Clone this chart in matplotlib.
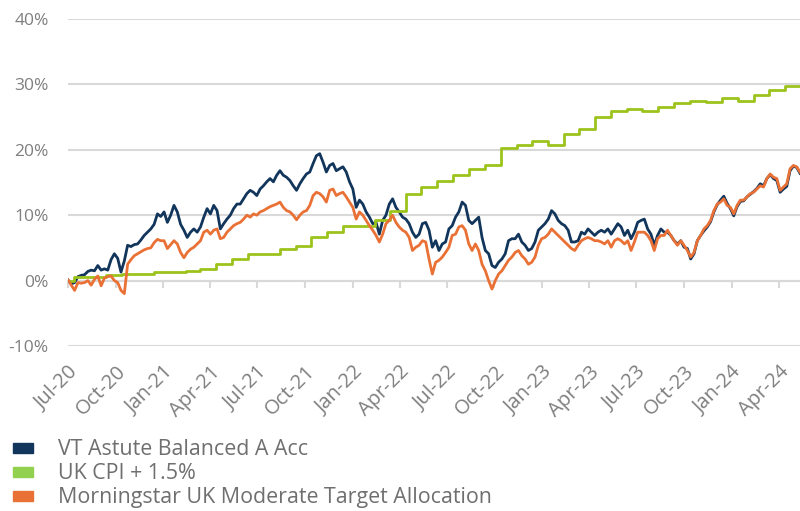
import numpy as np
import pandas as pd
import matplotlib
matplotlib.use("Agg")
import matplotlib.pyplot as plt
import matplotlib.dates as mdates
from matplotlib.patches import Patch
from matplotlib.ticker import MultipleLocator, FuncFormatter

plt.rcParams["font.family"] = ["Open Sans", "DejaVu Sans"]

# period covered by the chart
start = "2020-07-01"
end = "2024-05-12"

# cumulative return (%), roughly weekly
fund = [
    0.1, -0.5, -0.3, 0.6, 0.8, 0.9, 1.4, 1.6, 1.5, 2.3, 1.6, 1.8, 1.6, 3.2, 4.1, 3.4, 1.3, 3.0, 5.4, 5.2,
    5.5, 5.6, 6.2, 6.9, 7.4, 7.9, 8.6, 10.2, 9.8, 10.5, 8.9, 10.0, 11.5, 10.5, 8.6, 7.7, 6.6, 7.4, 7.9,
    7.4, 8.2, 9.7, 11.0, 10.2, 11.5, 10.7, 7.9, 8.7, 9.4, 10.0, 11.0, 11.7, 11.7, 12.5, 13.3, 13.8, 13.5, 13.0, 14.0,
    14.5, 15.1, 15.6, 15.1, 16.1, 16.8, 16.1, 15.8, 15.3, 14.5, 13.8, 14.8, 15.6, 16.3, 16.6, 17.9, 19.1, 19.4, 18.1, 16.6,
    17.6,
    17.9, 16.8, 17.1, 17.4, 16.6, 15.1, 14.0, 11.2, 12.3, 11.7, 10.5, 9.7, 8.7, 8.9, 7.1, 9.2, 10.0, 11.7, 12.5, 11.2,
    10.5, 9.7, 9.4, 8.7, 7.4, 6.6, 7.1, 8.7, 8.9, 7.7, 5.1, 6.1, 4.6, 5.6, 5.9, 7.9, 8.4, 9.7, 10.5, 12.0,
    11.5, 9.2,
    8.7, 9.2, 9.7, 6.6, 4.6, 4.1, 2.3, 2.0, 2.8, 3.3, 4.1, 6.1, 6.4, 6.4, 7.1, 5.9, 5.4, 4.6, 4.9, 5.9,
    7.7, 8.2, 8.7, 9.4, 10.7, 10.2, 9.2, 8.7, 8.4, 7.7, 5.9, 5.9, 6.1, 7.4, 7.1, 7.9, 7.4, 6.9, 7.4, 7.7,
    7.4, 7.9, 7.1, 7.9, 8.7, 8.2, 6.9, 7.7, 6.4, 7.4, 8.9, 9.2, 9.4, 7.9, 7.1, 5.4, 6.9, 7.9, 7.4, 7.4,
    6.9, 6.1, 5.6, 6.1, 5.1, 4.9, 3.3, 4.1, 6.1, 6.9,
    7.6, 8.2, 9.0, 10.5, 11.6, 12.3, 12.9, 11.8, 11.0, 9.9, 11.3, 12.1, 12.2, 12.8, 13.2, 13.6, 14.1, 14.8, 14.5, 15.6,
    16.2, 15.6, 15.3, 13.5, 14.0, 14.4, 16.8, 17.5, 17.3, 16.4,
]

sector = [
    0.1, -0.7, -1.5, -0.3, -0.4, -0.3, 0.0, -0.7, 0.2, 0.7, -0.8, 0.4, 0.6, 0.7, 0.0, -0.3, -1.5, -2.0, 2.5, 3.2,
    3.8, 4.1, 4.4, 4.7, 4.9, 5.0, 5.8, 6.3, 6.1, 6.1, 4.9, 5.5, 6.1, 5.6, 4.3, 3.5, 4.3, 4.8, 5.1,
    5.6, 6.1, 7.4, 7.7, 7.1, 7.7, 7.9, 6.4, 6.6, 7.4, 7.9, 8.4, 8.7, 8.9, 9.4, 10.0, 9.7, 10.2, 10.0, 10.5,
    10.7, 11.0, 11.3, 11.5, 11.7, 12.0, 11.2, 10.7, 10.5, 10.0, 9.3, 10.0, 10.5, 10.7, 11.5, 13.0, 13.5, 13.3, 12.8, 12.0,
    13.8,
    14.0, 13.0, 13.3, 13.5, 12.8, 12.0, 11.2, 9.4, 10.5, 10.0, 9.2, 8.4, 7.7, 6.9, 5.9, 7.1, 8.7, 9.2, 10.0, 8.9,
    8.2, 7.7, 7.4, 6.6, 4.6, 5.1, 5.4, 6.1, 5.9, 3.3, 1.0, 2.8, 3.1, 3.6, 4.3, 5.1, 6.9, 7.1, 8.2, 8.4,
    7.7, 5.6,
    4.6, 5.6, 4.6, 2.5, 1.5, 0.0, -1.3, 0.0, 1.0, 1.5, 2.3, 3.1, 3.6, 4.3, 4.6, 3.8, 3.3, 2.5, 2.8, 3.6,
    5.4, 6.4, 6.6, 7.1, 7.9, 7.4, 6.9, 6.4, 5.9, 5.4, 4.9, 4.6, 5.4, 6.1, 6.4, 6.6, 6.4, 6.1, 6.1, 5.9,
    5.6, 6.1, 5.1, 6.1, 6.4, 6.1, 5.6, 6.1, 4.6, 5.9, 7.4, 7.4, 7.4, 6.9, 6.1, 4.6, 6.4, 6.9, 6.9, 7.7,
    6.9, 6.1, 5.4, 6.1, 5.4, 4.6, 3.6, 4.3, 6.1, 6.9,
    7.9, 8.4, 9.2, 10.7, 11.7, 12.0, 12.5, 11.5, 11.2, 10.2, 11.5, 12.3, 12.3, 12.8, 13.3, 13.5, 14.0, 14.5, 14.3, 15.6,
    16.3, 15.8, 15.6, 13.8, 14.3, 14.8, 17.1, 17.6, 17.4, 16.6,
]

# UK CPI + 1.5%, one value per month from Jul-20 (changes mid-month)
cpi_monthly = [
    0.6, 0.6, 0.9, 1.0, 1.0, 1.3, 1.3, 1.4, 1.8, 2.5, 3.3, 4.0, 4.0, 4.8, 5.3, 6.6, 7.5, 8.3, 8.3, 9.3,
    10.6, 13.3, 14.3, 15.3, 16.1, 17.0, 17.6, 20.2, 20.7, 21.3, 20.8, 22.4, 23.2, 25.0, 26.0, 26.3, 25.9, 26.5, 27.2, 27.5,
    27.3, 27.9, 27.4, 28.3, 29.2, 29.7,
]

labels = ["VT Astute Balanced A Acc", "UK CPI + 1.5%", "Morningstar UK Moderate Target Allocation"]
c_fund = "#12355b"
c_cpi = "#9cc31c"
c_cpi_leg = "#92d050"
c_sector = "#ea7135"
grey = "#d9d9d9"
txt = "#7f7f7f"

dates = pd.date_range(start, end, periods=len(fund))
cpi_dates = ([pd.Timestamp(start)]
             + list(pd.date_range(start, periods=len(cpi_monthly), freq="MS") + pd.Timedelta(days=12))
             + [pd.Timestamp(end)])
cpi_vals = [0.0] + cpi_monthly + [cpi_monthly[-1]]

fig = plt.figure(figsize=(8, 5.11), dpi=100)
ax = fig.add_axes([0.085, 0.3229, 0.915, 0.64])

ax.plot(dates, fund, color=c_fund, lw=2.0, zorder=3)
ax.plot(cpi_dates, cpi_vals, color=c_cpi, lw=2.0, drawstyle="steps-post", zorder=3)
ax.plot(dates, sector, color=c_sector, lw=2.0, zorder=3)

ax.set_ylim(-10, 40)
ax.set_xlim(pd.Timestamp(start), pd.Timestamp(end))
ax.yaxis.set_major_locator(MultipleLocator(10))
ax.yaxis.set_major_formatter(FuncFormatter(lambda v, p: f"{v:.0f}%"))
ax.grid(axis="y", color=grey, lw=1.5)
ax.set_axisbelow(True)
for s in ax.spines.values():
    s.set_visible(False)

qtr = mdates.MonthLocator(bymonth=[1, 4, 7, 10])
ax.xaxis.set_major_locator(qtr)
ax.xaxis.set_major_formatter(mdates.DateFormatter("%b-%y"))
ax.tick_params(axis="y", length=0, pad=14, labelsize=12.5, labelcolor=txt)
ax.tick_params(axis="x", length=0, pad=11.5, labelsize=14.5, labelcolor=txt)
for lab in ax.get_xticklabels():
    lab.set_rotation(45)
    lab.set_ha("right")
    lab.set_va("top")
    lab.set_rotation_mode("anchor")

# category axis crossing at 0% with small tick marks
sec = ax.secondary_xaxis(0.2)
sec.xaxis.set_major_locator(mdates.MonthLocator(bymonth=[1, 4, 7, 10]))
sec.tick_params(axis="x", direction="out", length=5, width=1.5, color=grey, labelbottom=False)
sec.spines["bottom"].set_color(grey)
sec.spines["bottom"].set_linewidth(1.5)

handles = [Patch(color=c_fund), Patch(color=c_cpi_leg), Patch(color=c_sector)]
fig.legend(handles, labels, loc="upper left", bbox_to_anchor=(0.016, 0.140),
           frameon=False, fontsize=15.4, labelcolor="#6f6f6f",
           handlelength=0.93, handleheight=0.32, handletextpad=1.2, labelspacing=0.14,
           borderaxespad=0, borderpad=0)

fig.savefig("out.png", dpi=100)
